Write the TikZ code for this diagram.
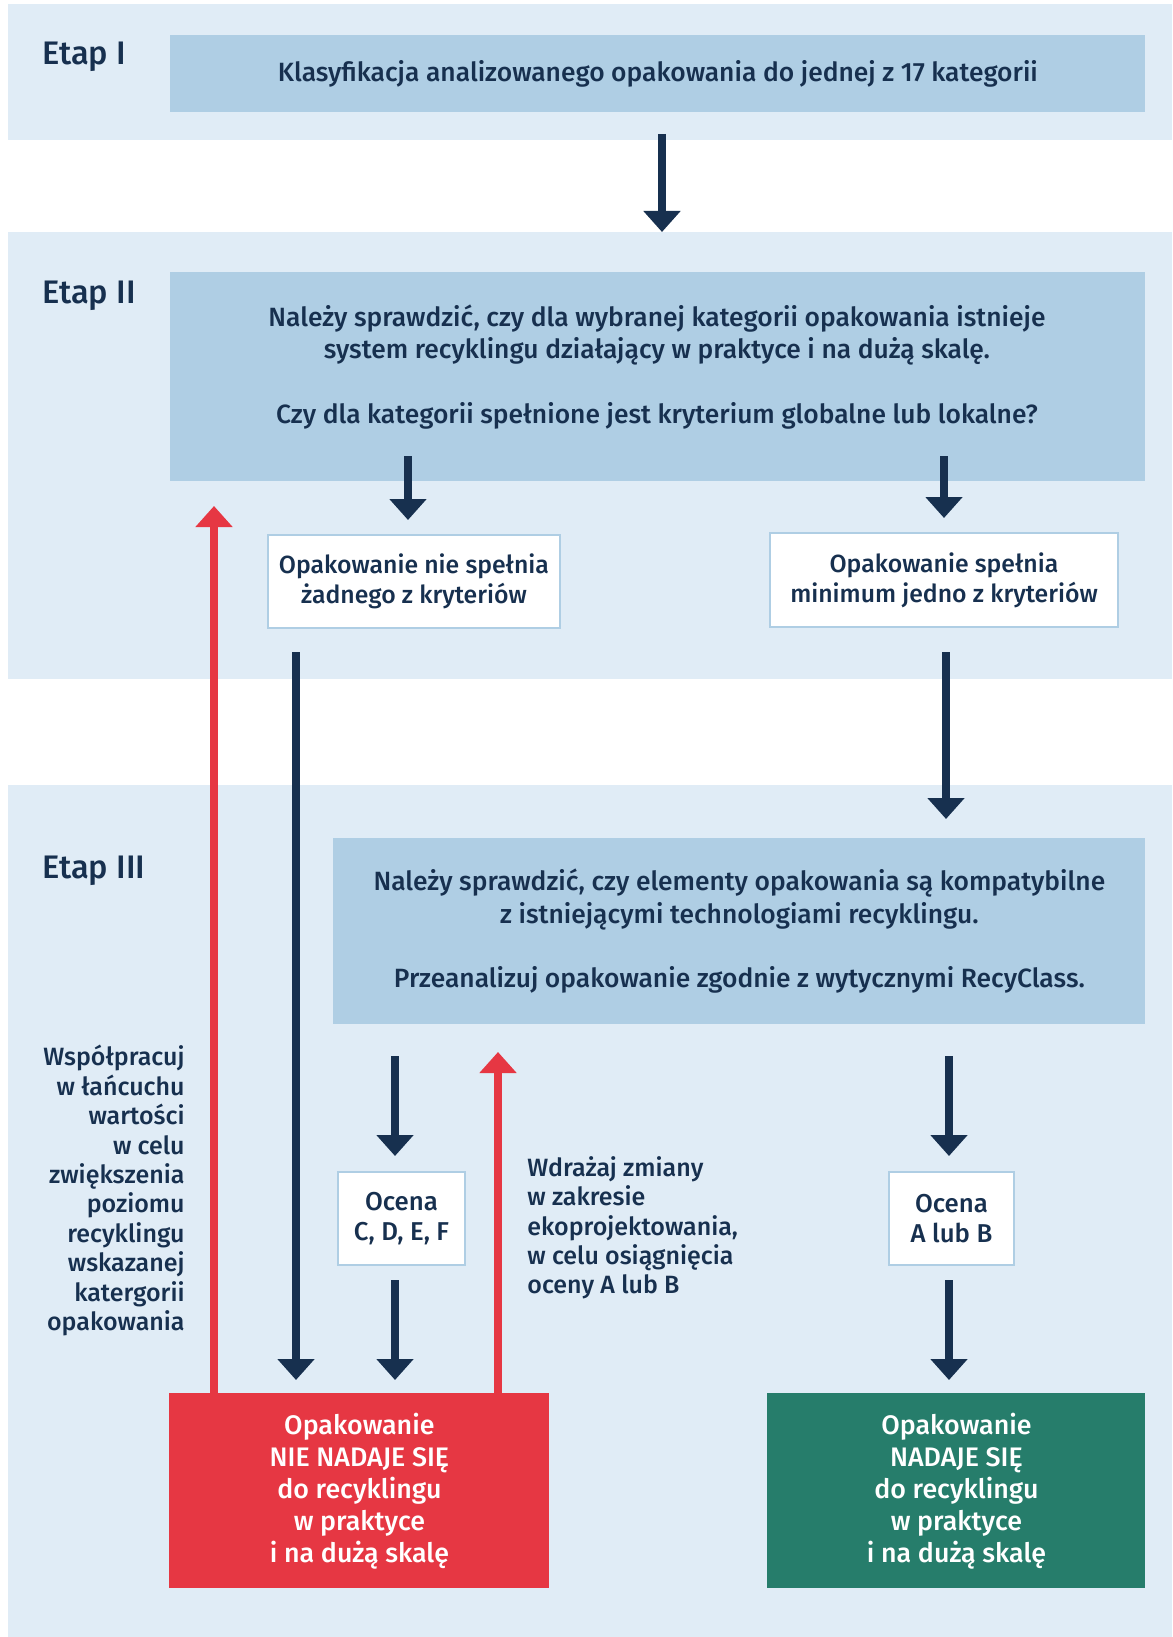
\documentclass[tikz,border=0pt]{standalone}
\usepackage{fontspec}
\setmainfont{Fira Sans Medium}
\usetikzlibrary{arrows.meta,positioning}
\definecolor{bandbg}{HTML}{E0ECF6}
\definecolor{boxbg}{HTML}{AFCEE4}
\definecolor{navy}{HTML}{17304F}
\definecolor{alertred}{HTML}{E63743}
\definecolor{okgreen}{HTML}{267D6B}

\begin{document}
\begin{tikzpicture}[x=0.5pt,y=-0.5pt,font=\fontsize{13.2}{16.2}\selectfont,
    band/.style={fill=bandbg,draw=none},
    question/.style={rectangle,fill=boxbg,text=navy,align=center,inner sep=0pt,anchor=north west},
    answer/.style={rectangle,fill=white,draw=boxbg,line width=1pt,text=navy,align=center,inner sep=0pt,
      anchor=north west,font=\fontsize{12.4}{15.1}\selectfont},
    grade/.style={answer,font=\fontsize{12.9}{14.6}\selectfont},
    verdict/.style={rectangle,text=white,align=center,inner sep=0pt,anchor=north west,
      minimum width=190pt,minimum height=97.5pt,font=\fontsize{13.4}{16}\selectfont},
    stage/.style={text=navy,anchor=west,inner sep=0pt,font=\fontsize{16.3}{18}\selectfont},
    note/.style={text=navy,inner sep=0pt,font=\fontsize{12.5}{14.7}\selectfont},
    flow/.style={-{Triangle[length=10.5pt,width=18pt]},navy,line width=4pt},
    back/.style={-{Triangle[length=10.5pt,width=18pt]},alertred,line width=4pt}]

  \useasboundingbox (0,0) rectangle (1172,1637);
  \fill[white] (0,0) rectangle (1172,1637);

  % stage bands
  \fill[band] (8,4) rectangle (1172,140);
  \fill[band] (8,232) rectangle (1172,679);
  \fill[band] (8,785) rectangle (1172,1637);

  \node[stage] (etap1) at (42,57) {Etap I};
  \node[stage] (etap2) at (42,296) {Etap II};
  \node[stage] (etap3) at (42,871) {Etap III};

  % Etap I
  \node[question,minimum width=487.5pt,minimum height=38.5pt] (klas) at (170,35)
    {Klasyfikacja analizowanego opakowania do jednej z 17 kategorii};

  % Etap II
  \node[question,minimum width=487.5pt,minimum height=104.5pt] (chk) at (170,272) {};
  \node[text=navy,align=center,inner sep=0pt] (chktxt) at (657,367)
    {Należy sprawdzić, czy dla wybranej kategorii opakowania istnieje\\
     system recyklingu działający w praktyce i na dużą skalę.\\[16.2pt]
     Czy dla kategorii spełnione jest kryterium globalne lub lokalne?};
  \node[answer,minimum width=146pt,minimum height=46.5pt] (nie) at (267,534)
    {Opakowanie nie spełnia\\żadnego z kryteriów};
  \node[answer,minimum width=174pt,minimum height=47pt] (min) at (769,532)
    {Opakowanie spełnia\\minimum jedno z kryteriów};

  % Etap III
  \node[question,minimum width=406pt,minimum height=93pt] (comp) at (333,838)
    {Należy sprawdzić, czy elementy opakowania są kompatybilne\\
     z istniejącymi technologiami recyklingu.\\[16.2pt]
     Przeanalizuj opakowanie zgodnie z wytycznymi RecyClass.};
  \node[grade,minimum width=63.5pt,minimum height=46.5pt] (cdef) at (337,1171)
    {Ocena\\C, D, E, F};
  \node[grade,minimum width=62.5pt,minimum height=46.5pt] (ab) at (888,1171)
    {Ocena\\A lub B};

  \node[verdict,fill=alertred] (fail) at (169,1393)
    {Opakowanie\\NIE NADAJE SIĘ\\do recyklingu\\w praktyce\\i na dużą skalę};
  \node[verdict,fill=okgreen,minimum width=189pt] (pass) at (767,1393)
    {Opakowanie\\NADAJE SIĘ\\do recyklingu\\w praktyce\\i na dużą skalę};

  \node[note,align=right,anchor=north east] (coop) at (185,1045)
    {Współpracuj\\w łańcuchu\\wartości\\w celu\\zwiększenia\\poziomu\\recyklingu\\wskazanej\\katergorii\\opakowania};
  \node[note,align=left,anchor=north west] (eco) at (527,1156)
    {Wdrażaj zmiany\\w zakresie\\ekoprojektowania,\\w celu osiągnięcia\\oceny A lub B};

  % arrow ends
  \coordinate (a1) at (662,134);
  \coordinate (b1) at (662,232);
  \coordinate (a2) at (408,456);
  \coordinate (a3) at (944,456);
  \coordinate (a4) at (296,652);
  \coordinate (a5) at (946,652);
  \coordinate (b5) at (946,819);
  \coordinate (a6) at (395,1056);
  \coordinate (a7) at (949,1056);
  \coordinate (r1) at (214,506);
  \coordinate (r2) at (498,1052);

  \draw[flow] (a1) -- (b1);
  \draw[flow] (a2) -- ([yshift=7pt]a2 |- nie.north);
  \draw[flow] (a3) -- ([yshift=7pt]a3 |- min.north);
  \draw[flow] (a4) -- ([yshift=6.5pt]a4 |- fail.north);
  \draw[flow] (a5) -- (b5);
  \draw[flow] (a6) -- ([yshift=7.5pt]a6 |- cdef.north);
  \draw[flow] ([yshift=-7pt]a6 |- cdef.south) -- ([yshift=6.5pt]a6 |- fail.north);
  \draw[flow] (a7) -- ([yshift=7.5pt]a7 |- ab.north);
  \draw[flow] ([yshift=-7pt]a7 |- ab.south) -- ([yshift=6.5pt]a7 |- pass.north);
  \draw[back] (r1 |- fail.north) -- (r1);
  \draw[back] (r2 |- fail.north) -- (r2);
\end{tikzpicture}
\end{document}
